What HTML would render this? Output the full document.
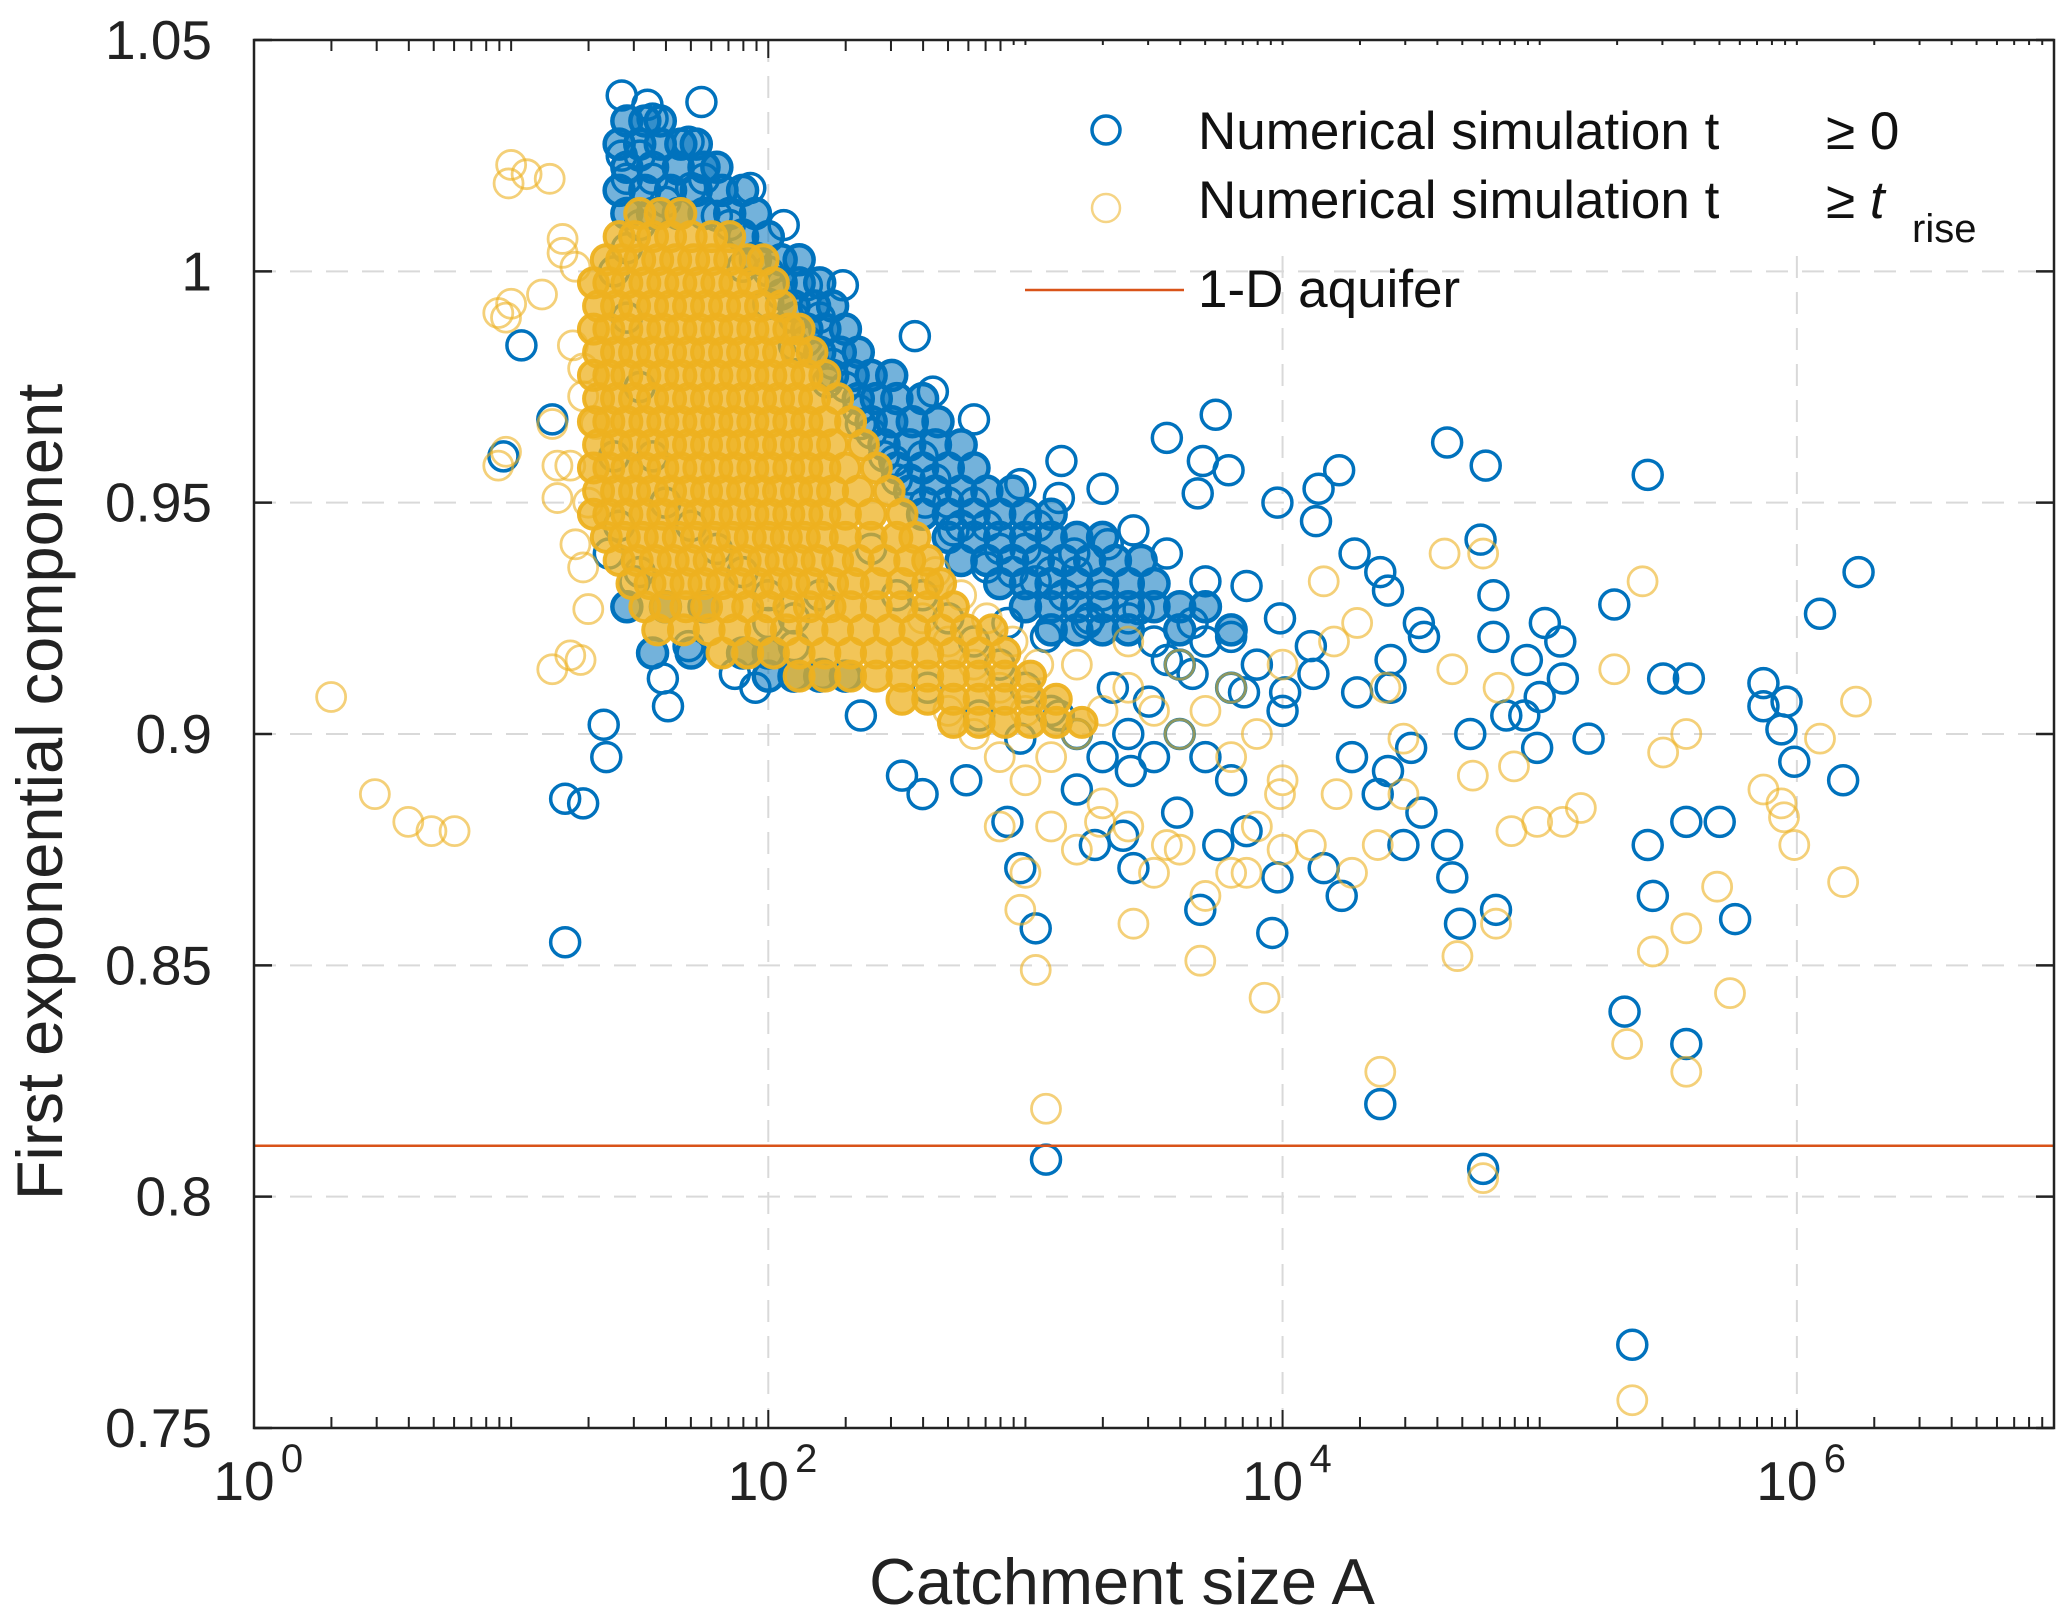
<!DOCTYPE html>
<html><head><meta charset="utf-8"><style>
html,body{margin:0;padding:0;background:#fff}
svg{display:block;font-family:"Liberation Sans",sans-serif}
</style></head><body>
<svg id="c" width="2067" height="1621" viewBox="0 0 2067 1621" xmlns="http://www.w3.org/2000/svg">
<g id="grid"></g>
<g id="blue"></g>
<g id="yellow"></g>
<g id="ref"></g>
<g id="axes"></g>
<g id="legend">
  <rect x="1010" y="45" width="1040" height="208" fill="#fff"/>
  <circle cx="1106" cy="130" r="14" fill="none" stroke="#0072BD" stroke-width="3.5"/>
  <text x="1198" y="149" font-size="53" fill="#111">Numerical simulation t</text>
  <text x="1826" y="149" font-size="53" fill="#111">≥ 0</text>
  <circle cx="1106" cy="208" r="14" fill="none" stroke="#EDB120" stroke-opacity="0.55" stroke-width="2.5"/>
  <text x="1198" y="218" font-size="53" fill="#111">Numerical simulation t</text>
  <text x="1826" y="218" font-size="53" fill="#111">≥ <tspan font-style="italic">t</tspan></text>
  <text x="1912" y="242" font-size="40" fill="#111">rise</text>
  <line x1="1025" y1="290" x2="1184" y2="290" stroke="#D95319" stroke-width="2.5"/>
  <text x="1198" y="307" font-size="53" fill="#111">1-D aquifer</text>
</g>
<text x="1122" y="1604" font-size="65" text-anchor="middle" fill="#222">Catchment size A</text>
<text transform="translate(62,792) rotate(-90)" font-size="65" text-anchor="middle" fill="#222">First exponential component</text>
</svg>
<script>
const blueLogA=[1.43,1.74,1.53,1.55,1.69,1.43,1.93,2.06,2.15,2.29,2.57,2.64,2.80,2.98,3.14,3.13,3.30,3.55,3.74,3.69,3.79,3.67,3.98,4.13,4.14,4.22,4.64,4.79,4.77,4.82,4.41,4.28,4.53,4.55,4.82,4.95,5.02,5.08,5.09,4.73,4.87,4.94,4.99,5.0,5.19,5.29,5.42,5.48,5.58,6.09,6.24,5.87,5.87,5.96,5.94,5.99,6.18,5.57,5.70,5.42,5.44,5.76,5.57,5.33,5.36,4.78,4.38,3.08,3.04,2.98,4.83,4.69,4.66,4.64,4.47,4.54,4.37,4.41,4.27,4.16,4.23,3.96,3.98,3.86,3.75,3.68,3.59,3.42,3.38,3.27,3.20,3.41,3.48,3.65,3.85,4.01,4.12,4.29,4.42,4.42,4.50,4.38,4.11,3.99,3.86,3.70,3.55,3.42,3.32,3.19,3.04,2.85,2.72,2.61,2.49,2.36,2.23,2.10,2.0,1.90,2.93,3.08,3.24,3.44,3.65,3.80,3.55,3.34,3.13,2.98,2.82,2.62,2.52,2.60,2.77,2.93,2.36,2.21,2.10,2.0,1.95,1.87,1.61,1.59,1.69,1.48,1.38,1.21,1.21,1.28,1.36,1.37,1.16,0.97,1.04,
1.45,1.5,1.55,1.6,1.5,1.45,1.4,1.65,1.7,1.75,1.8,1.85,1.9,1.95,2.0,2.05,2.1,2.15,2.2,2.25,2.3,2.35,2.4,2.45,2.5,2.55,2.6,2.65,2.7,2.75,2.8,2.85,2.9,2.95,3.0,3.05,3.1,3.15,3.2,3.25,3.3,3.4,3.5,3.6,3.7,3.8,3.9,4.0,2.4,2.5,2.6,2.7,2.8,2.9,3.0,3.1,3.2,3.3,3.4,3.5,3.6,3.7,3.8,1.45,1.5,1.55,1.6,1.7,1.8,1.9,2.0,2.1,2.2,1.4,1.42,1.5];
const blueVal=[1.038,1.0366,1.036,1.033,1.028,1.025,1.018,1.010,0.997,0.997,0.986,0.974,0.968,0.954,0.959,0.951,0.953,0.964,0.969,0.959,0.957,0.952,0.950,0.946,0.953,0.957,0.963,0.958,0.942,0.930,0.931,0.939,0.924,0.921,0.921,0.916,0.924,0.920,0.912,0.900,0.904,0.904,0.897,0.908,0.899,0.928,0.956,0.912,0.912,0.926,0.935,0.911,0.906,0.907,0.901,0.894,0.890,0.881,0.881,0.876,0.865,0.860,0.833,0.840,0.768,0.806,0.820,0.808,0.858,0.871,0.862,0.859,0.869,0.876,0.876,0.883,0.887,0.892,0.895,0.871,0.865,0.857,0.869,0.879,0.876,0.862,0.883,0.871,0.878,0.876,0.888,0.892,0.907,0.913,0.909,0.909,0.913,0.909,0.910,0.916,0.897,0.935,0.919,0.925,0.932,0.933,0.939,0.944,0.941,0.939,0.933,0.936,0.944,0.950,0.959,0.967,0.976,0.984,0.993,1.001,0.924,0.921,0.924,0.927,0.924,0.921,0.916,0.910,0.904,0.899,0.904,0.910,0.891,0.887,0.890,0.881,0.904,0.913,0.919,0.924,0.910,0.913,0.906,0.912,0.919,0.933,0.939,0.855,0.886,0.885,0.902,0.895,0.968,0.960,0.984,
1.02,1.025,1.02,1.015,1.01,1.005,1.0,1.022,1.018,1.02,1.012,1.01,1.008,1.003,1.0,0.995,0.99,0.985,0.99,0.98,0.975,0.97,0.965,0.96,0.955,0.955,0.96,0.955,0.95,0.945,0.95,0.945,0.94,0.935,0.94,0.945,0.935,0.93,0.935,0.925,0.93,0.925,0.92,0.915,0.92,0.91,0.915,0.905,0.94,0.93,0.93,0.925,0.92,0.915,0.91,0.905,0.9,0.895,0.9,0.895,0.9,0.895,0.89,0.99,0.975,0.96,0.95,0.945,0.94,0.935,0.93,0.925,0.93,0.96,0.945,0.935];
const blueRowVal=[1.0325,1.0275,1.0225,1.0175,1.0125,1.0075,1.0025,0.9975,0.9925,0.9875,0.9825,0.9775,0.9725,0.9675,0.9625,0.9575,0.9525,0.9475,0.9425,0.9375,0.9325,0.9275,0.9225,0.9275,0.9175,0.9125];
const blueRowLogA=[[1.45,1.52,1.58],[1.42,1.5,1.58,1.66,1.72],[1.45,1.55,1.65,1.75,1.8],[1.42,1.52,1.62,1.72,1.82,1.9],[1.45,1.55,1.65,1.75,1.85,1.95],[1.9,2.0],[1.95,2.05,2.12],[2.05,2.12,2.2],[2.1,2.18,2.25],[2.15,2.22,2.3],[2.2,2.28,2.35],[2.25,2.33,2.4,2.48],[2.35,2.42,2.5,2.6],[2.4,2.48,2.56,2.66],[2.45,2.55,2.65,2.75],[2.5,2.6,2.7,2.8],[2.55,2.65,2.75,2.85,2.95],[2.6,2.7,2.8,2.9,3.0,3.1],[2.7,2.8,2.9,3.0,3.1,3.2,3.3],[2.75,2.85,2.95,3.05,3.15,3.25,3.35,3.45],[2.9,3.0,3.1,3.2,3.3,3.4,3.5],[3.0,3.1,3.2,3.3,3.4,3.5,3.6,3.7],[3.1,3.2,3.3,3.4,3.6,3.8],[1.45,1.6,1.75],[1.55,1.7,1.9,2.0],[2.0,2.1,2.2,2.3]];
const yellowLogA=[0.30,0.47,0.60,0.69,0.78,1.0,0.99,1.06,1.15,0.95,0.98,1.0,0.95,0.98,1.12,1.20,1.20,1.25,1.16,1.18,1.18,1.16,1.23,1.27,1.30,1.25,1.28,1.30,1.24,1.28,1.28,1.33,1.23,
2.6,2.7,2.8,2.9,3.0,2.65,2.75,2.85,2.95,3.05,2.7,2.8,2.9,3.0,3.1,3.2,3.3,3.4,3.5,3.6,3.7,3.8,3.9,4.0,3.1,3.2,3.3,3.4,3.5,3.6,3.7,3.8,3.9,4.0,3.0,2.9,3.2,3.4,3.6,3.8,4.0,4.2,4.4,
5.36,5.34,5.40,5.29,5.48,5.57,5.44,5.57,5.57,5.69,5.74,5.87,5.94,5.95,5.99,6.09,6.18,6.23,4.38,4.78,3.08,3.04,2.98,3.93,3.68,3.42,4.68,4.83,4.74,4.90,5.16,4.99,4.89,5.09,4.66,4.84,4.78,4.63,4.47,4.37,4.21,4.11,3.99,4.29,4.16,3.86,3.55,3.29,4.27,4.47];
const yellowVal=[0.908,0.887,0.881,0.879,0.879,1.023,1.019,1.021,1.02,0.958,0.961,0.993,0.991,0.99,0.995,1.007,1.004,1.001,0.967,0.958,0.951,0.914,0.917,0.916,0.927,0.941,0.936,0.950,0.984,0.979,0.973,0.967,0.958,
0.925,0.92,0.915,0.91,0.905,0.935,0.93,0.925,0.92,0.915,0.905,0.9,0.895,0.89,0.895,0.9,0.905,0.91,0.905,0.9,0.905,0.895,0.9,0.89,0.88,0.875,0.885,0.88,0.87,0.875,0.865,0.87,0.88,0.875,0.87,0.88,0.915,0.92,0.915,0.91,0.915,0.92,0.91,
0.756,0.833,0.933,0.914,0.896,0.900,0.853,0.858,0.827,0.867,0.844,0.888,0.885,0.882,0.876,0.899,0.868,0.907,0.827,0.804,0.819,0.849,0.862,0.843,0.851,0.859,0.852,0.859,0.891,0.893,0.884,0.881,0.879,0.881,0.914,0.910,0.939,0.939,0.899,0.876,0.887,0.876,0.887,0.924,0.933,0.870,0.876,0.881,0.870,0.887];
const yellowRowVal=[1.0125,1.0075,1.0025,0.9975,0.9925,0.9875,0.9825,0.9775,0.9725,0.9675,0.9625,0.9575,0.9525,0.9475,0.9425,0.9375,0.9325,0.9275,0.9225,0.9175,0.9125,0.9075,0.9025];
const yellowRowLogA=[[1.5,1.58,1.66],[1.42,1.48,1.55,1.62,1.7,1.78,1.85],[1.37,1.43,1.5,1.57,1.64,1.71,1.78,1.85,1.92,1.98],[1.32,1.38,1.45,1.52,1.59,1.66,1.73,1.8,1.87,1.94,2.02],[1.34,1.41,1.48,1.55,1.62,1.69,1.76,1.83,1.9,1.97,2.05],[1.32,1.38,1.45,1.52,1.59,1.66,1.73,1.8,1.87,1.94,2.01,2.08,2.12],[1.34,1.41,1.48,1.55,1.62,1.69,1.76,1.83,1.9,1.97,2.04,2.11,2.17],[1.32,1.38,1.45,1.52,1.59,1.66,1.73,1.8,1.87,1.94,2.01,2.08,2.15,2.22],[1.34,1.41,1.48,1.55,1.62,1.69,1.76,1.83,1.9,1.97,2.04,2.11,2.18,2.27],[1.32,1.38,1.45,1.52,1.59,1.66,1.73,1.8,1.87,1.94,2.01,2.08,2.15,2.22,2.32],[1.34,1.41,1.48,1.55,1.62,1.69,1.76,1.83,1.9,1.97,2.04,2.11,2.18,2.25,2.37],[1.32,1.38,1.45,1.52,1.59,1.66,1.73,1.8,1.87,1.94,2.01,2.08,2.15,2.22,2.3,2.42],[1.34,1.41,1.48,1.55,1.62,1.69,1.76,1.83,1.9,1.97,2.04,2.11,2.18,2.25,2.35,2.47],[1.32,1.38,1.45,1.52,1.59,1.66,1.73,1.8,1.87,1.94,2.01,2.08,2.15,2.22,2.3,2.4,2.52],[1.37,1.44,1.51,1.58,1.65,1.72,1.79,1.86,1.93,2.0,2.07,2.14,2.21,2.3,2.4,2.5,2.57],[1.42,1.49,1.56,1.63,1.7,1.77,1.84,1.91,1.98,2.05,2.12,2.19,2.27,2.35,2.45,2.55,2.62],[1.47,1.54,1.61,1.68,1.75,1.82,1.89,1.96,2.03,2.1,2.17,2.25,2.33,2.42,2.52,2.62,2.67],[1.52,1.6,1.68,1.76,1.84,1.92,2.0,2.08,2.16,2.24,2.32,2.42,2.52,2.62,2.72],[1.57,1.67,1.77,1.87,1.97,2.07,2.17,2.27,2.37,2.47,2.57,2.67,2.77,2.87],[1.82,1.92,2.02,2.12,2.22,2.32,2.42,2.52,2.62,2.72,2.82,2.92],[2.12,2.22,2.32,2.42,2.52,2.62,2.72,2.82,2.92,3.02],[2.52,2.62,2.72,2.82,2.92,3.02,3.12],[2.72,2.82,2.92,3.02,3.12,3.22]];
const refValue=[0.811];
const yTickVals=[0.75,0.8,0.85,0.9,0.95,1.0,1.05];
const yTickLabels=["0.75","0.8","0.85","0.9","0.95","1","1.05"];
const xTickExp=[0,2,4,6];

const L=254,R=2054,T=40,B=1428;
const X=lg=>L+(lg-0)/7*(R-L);
const Y=v=>B-(v-0.75)/0.3*(B-T);
const NS="http://www.w3.org/2000/svg";
function mk(tag,parent,attrs){const e=document.createElementNS(NS,tag);for(const k in attrs)e.setAttribute(k,attrs[k]);parent.appendChild(e);return e;}
const grid=document.getElementById('grid'),axes=document.getElementById('axes');
for(const v of [0.8,0.85,0.9,0.95,1.0]){const g=mk('line',grid,{x1:L,x2:R,y1:Y(v),y2:Y(v),stroke:'#d9d9d9','stroke-width':2,'stroke-dasharray':'22,14'});

}
for(const e of [2,4,6]){const g=mk('line',grid,{x1:X(e),x2:X(e),y1:T,y2:B,stroke:'#d9d9d9','stroke-width':2,'stroke-dasharray':'22,14'});

}
const bg=document.getElementById('blue'),yg=document.getElementById('yellow');
function blue(a,v,dense){const c=mk('circle',bg,{cx:X(a),cy:Y(v),r:14.5,fill:dense?'#0072BD':'none','fill-opacity':0.55,stroke:'#0072BD','stroke-width':dense?4.5:3.5});

}
function yellow(a,v,dense){const c=mk('circle',yg,{cx:X(a),cy:Y(v),r:14.5,fill:dense?'#EDB120':'none','fill-opacity':0.75,stroke:'#EDB120','stroke-opacity':dense?0.95:0.6,'stroke-width':dense?4:2.8});

}
blueRowVal.forEach((v,i)=>blueRowLogA[i].forEach(a=>blue(a,v,true)));
blueLogA.forEach((a,i)=>blue(a,blueVal[i],false));
yellowRowVal.forEach((v,i)=>yellowRowLogA[i].forEach(a=>yellow(a,v,true)));
yellowLogA.forEach((a,i)=>yellow(a,yellowVal[i],false));
const rl=mk('line',document.getElementById('ref'),{x1:L,x2:R,y1:Y(refValue[0]),y2:Y(refValue[0]),stroke:'#D95319','stroke-width':2.5});


const bx=mk('rect',axes,{x:L,y:T,width:R-L,height:B-T,fill:'none',stroke:'#222','stroke-width':2.5});


yTickVals.forEach((v,i)=>{
 const t1=mk('line',axes,{x1:L,x2:L+18,y1:Y(v),y2:Y(v),stroke:'#222','stroke-width':2.5});
 
 
 const t2=mk('line',axes,{x1:R,x2:R-18,y1:Y(v),y2:Y(v),stroke:'#222','stroke-width':2.5});
 
 
 const tx=mk('text',axes,{x:212,y:Y(v)+19,'font-size':55,'text-anchor':'end',fill:'#222'});
 tx.textContent=yTickLabels[i];
 
 
});
for(let d=0;d<7;d++){for(let m=1;m<10;m++){const lg=d+Math.log10(m);const len=(m===1&&d%2===0)?18:11;
 for(const [y0,s] of [[B,-1],[T,1]]){const t=mk('line',axes,{x1:X(lg),x2:X(lg),y1:y0,y2:y0+s*len,stroke:'#222','stroke-width':2});
 
 }}}
xTickExp.forEach(e=>{const tx=mk('text',axes,{x:X(e)-10,y:1500,'font-size':55,'text-anchor':'middle',fill:'#222'});
 tx.textContent='10';
 
 
 const sp=mk('text',axes,{x:X(e)+38,y:1472,'font-size':40,'text-anchor':'middle',fill:'#222'});
 sp.textContent=String(e);
 
 });
document.getElementById('c').appendChild(document.getElementById('legend'));
</script>
</body></html>
